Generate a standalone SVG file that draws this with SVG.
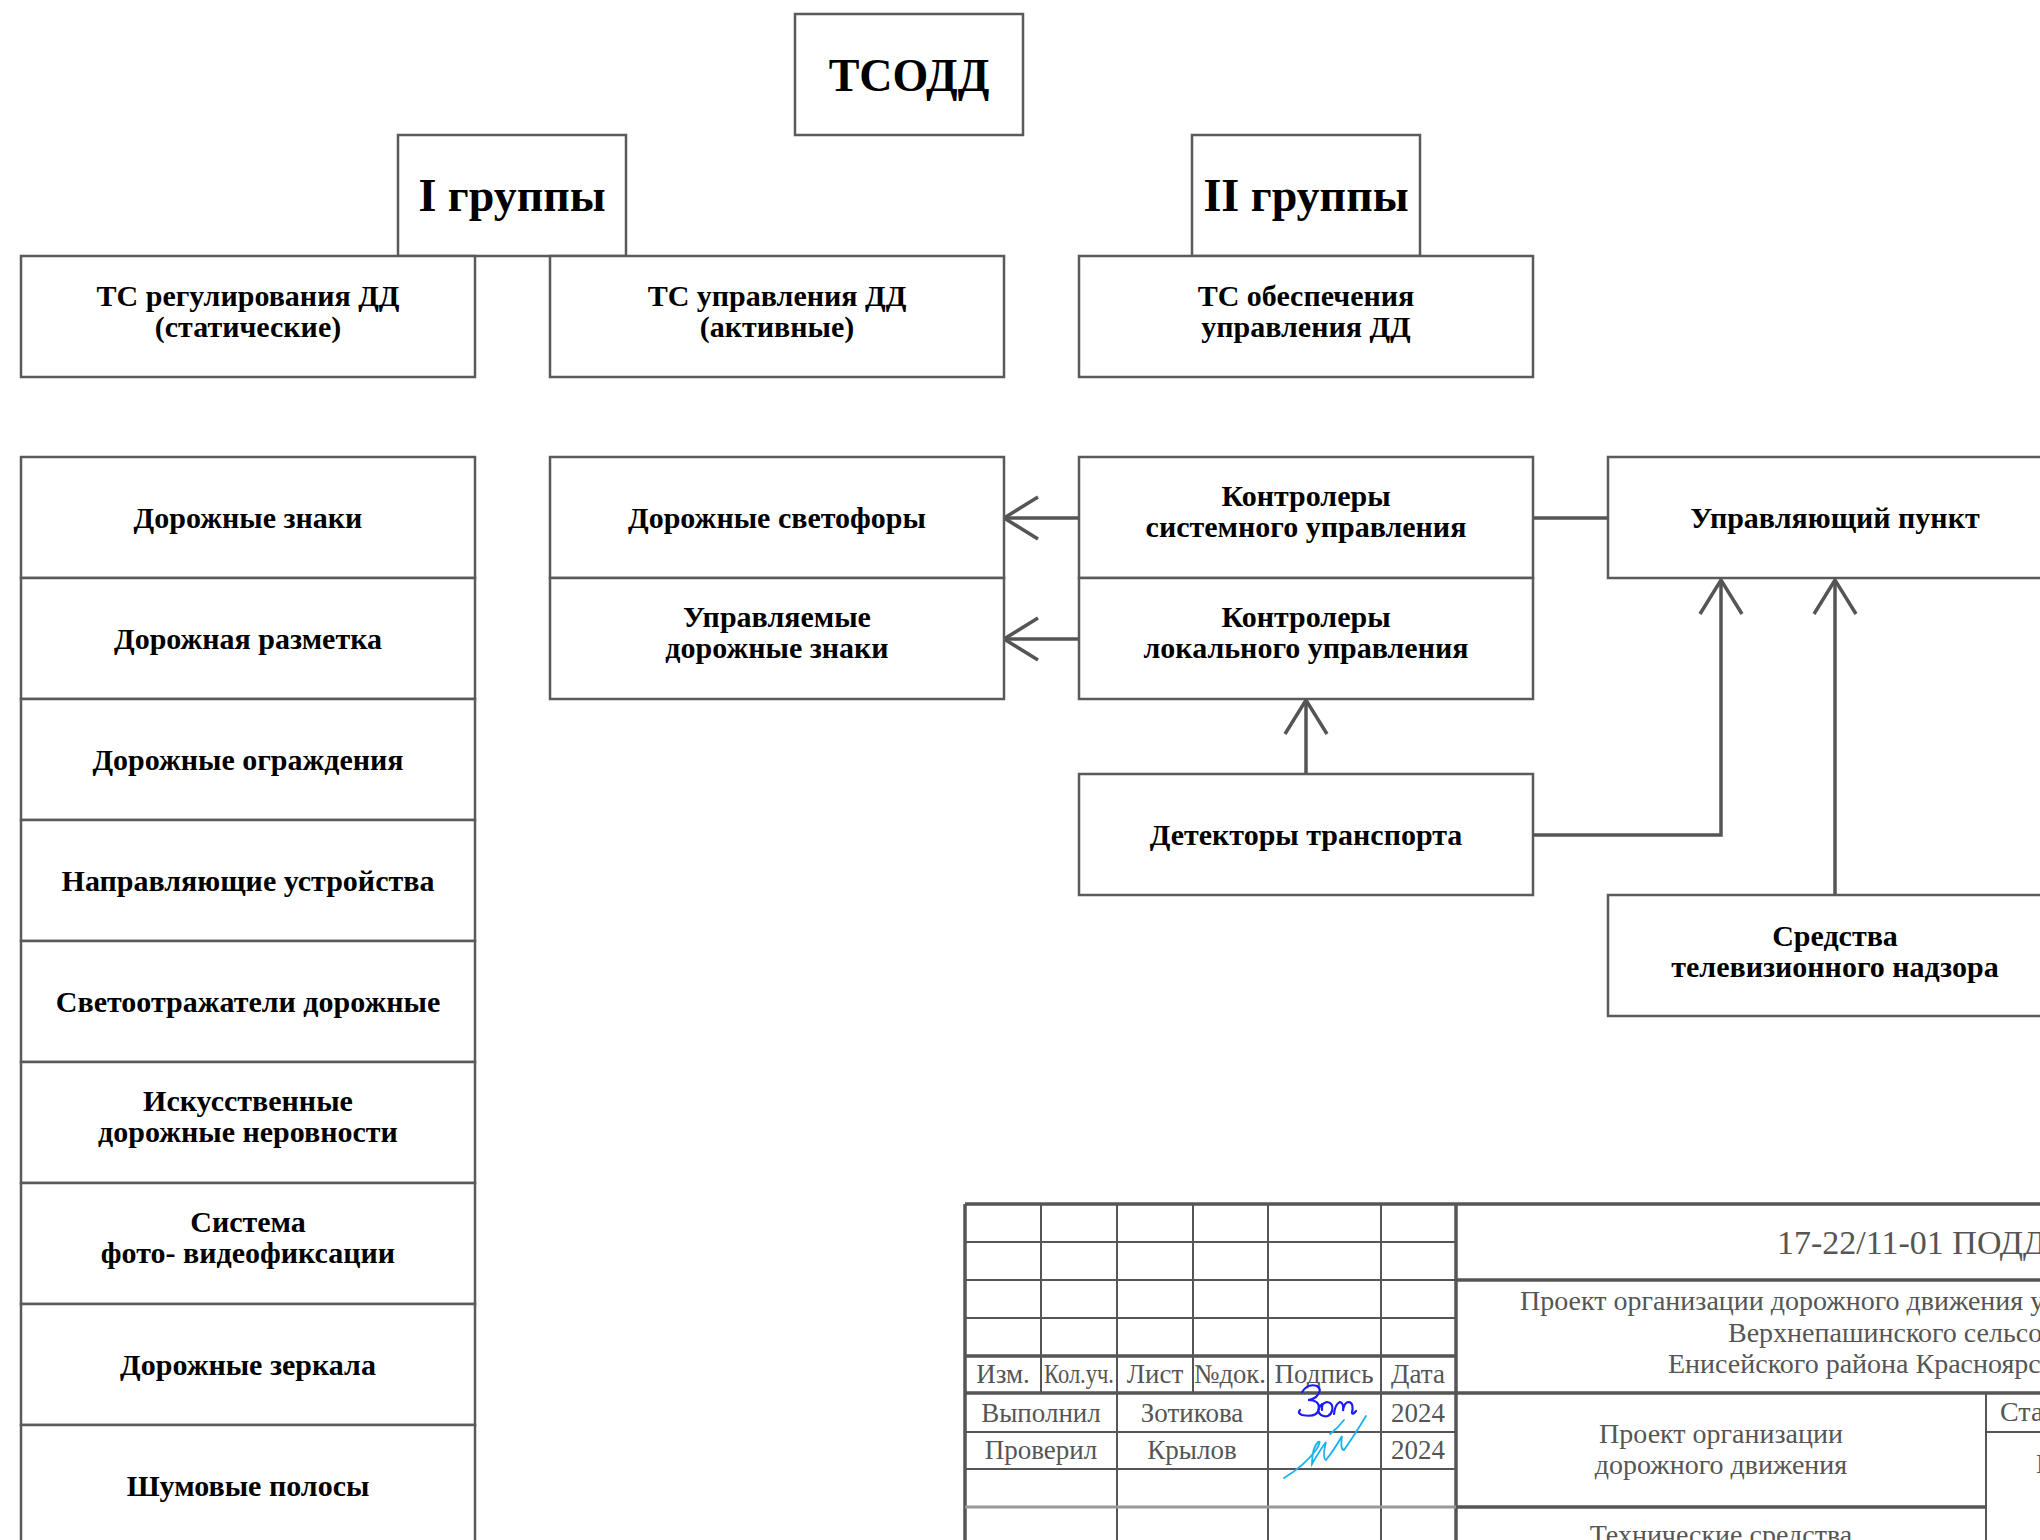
<svg xmlns="http://www.w3.org/2000/svg" width="2040" height="1540" viewBox="0 0 2040 1540">
<style>
.b{fill:#fff;stroke:#5a5a5a;stroke-width:2.5}
.t{font-family:"Liberation Serif","Times New Roman",serif;font-weight:bold;font-size:30px;fill:#000;text-anchor:middle}
.h{font-family:"Liberation Serif","Times New Roman",serif;font-weight:bold;font-size:46px;fill:#000;text-anchor:middle}
.c{fill:none;stroke:#555;stroke-width:3.5}
.tb{fill:none;stroke:#555;stroke-width:2}
.tbk{fill:none;stroke:#555;stroke-width:3.5}
.s{font-family:"Liberation Serif","Times New Roman",serif;font-size:27px;fill:#555;text-anchor:middle}
.sl{font-family:"Liberation Serif","Times New Roman",serif;font-size:28px;fill:#555}
</style>
<defs>
<marker id="arr" markerUnits="userSpaceOnUse" markerWidth="44" markerHeight="50" viewBox="-40 -25 44 50" refX="0" refY="0" orient="auto" overflow="visible">
<path d="M-34,-21 L0,0 L-34,21" fill="none" stroke="#555" stroke-width="3.5"/>
</marker>
</defs>
<rect width="2040" height="1540" fill="#fff"/>

<g id="connectors">
<path class="c" d="M1079,518 H1004" marker-end="url(#arr)"/>
<path class="c" d="M1079,639 H1004" marker-end="url(#arr)"/>
<path class="c" d="M1306,774 V700" marker-end="url(#arr)"/>
<path class="c" d="M1533,518 H1608"/>
<path class="c" d="M1533,835 H1721 V580" marker-end="url(#arr)"/>
<path class="c" d="M1835,895 V580" marker-end="url(#arr)"/>
</g>

<g id="tsodd"><rect class="b" x="795" y="14" width="228" height="121"/><text class="h" x="909" y="91">ТСОДД</text></g>
<g id="group1"><rect class="b" x="398" y="135" width="228" height="121"/><text class="h" x="512" y="211">I группы</text></g>
<g id="group2"><rect class="b" x="1192" y="135" width="228" height="121"/><text class="h" x="1306" y="211">II группы</text></g>

<g id="ts-reg"><rect class="b" x="21" y="256" width="454" height="121"/><text class="t" x="248" y="306">ТС регулирования ДД</text><text class="t" x="248" y="337">(статические)</text></g>
<g id="ts-upr"><rect class="b" x="550" y="256" width="454" height="121"/><text class="t" x="777" y="306">ТС управления ДД</text><text class="t" x="777" y="337">(активные)</text></g>
<g id="ts-obesp"><rect class="b" x="1079" y="256" width="454" height="121"/><text class="t" x="1306" y="306">ТС обеспечения</text><text class="t" x="1306" y="337">управления ДД</text></g>

<g id="znaki"><rect class="b" x="21" y="457" width="454" height="121"/><text class="t" x="248" y="528">Дорожные знаки</text></g>
<g id="razmetka"><rect class="b" x="21" y="578" width="454" height="121"/><text class="t" x="248" y="649">Дорожная разметка</text></g>
<g id="ograzhdeniya"><rect class="b" x="21" y="699" width="454" height="121"/><text class="t" x="248" y="770">Дорожные ограждения</text></g>
<g id="napravl"><rect class="b" x="21" y="820" width="454" height="121"/><text class="t" x="248" y="891">Направляющие устройства</text></g>
<g id="svetootr"><rect class="b" x="21" y="941" width="454" height="121"/><text class="t" x="248" y="1012">Светоотражатели дорожные</text></g>
<g id="nerovnosti"><rect class="b" x="21" y="1062" width="454" height="121"/><text class="t" x="248" y="1111">Искусственные</text><text class="t" x="248" y="1142">дорожные неровности</text></g>
<g id="foto"><rect class="b" x="21" y="1183" width="454" height="121"/><text class="t" x="248" y="1232">Система</text><text class="t" x="248" y="1263">фото- видеофиксации</text></g>
<g id="zerkala"><rect class="b" x="21" y="1304" width="454" height="121"/><text class="t" x="248" y="1375">Дорожные зеркала</text></g>
<g id="shum"><rect class="b" x="21" y="1425" width="454" height="125"/><text class="t" x="248" y="1496">Шумовые полосы</text></g>

<g id="svetofory"><rect class="b" x="550" y="457" width="454" height="121"/><text class="t" x="777" y="528">Дорожные светофоры</text></g>
<g id="upr-znaki"><rect class="b" x="550" y="578" width="454" height="121"/><text class="t" x="777" y="627">Управляемые</text><text class="t" x="777" y="658">дорожные знаки</text></g>

<g id="kontr-sys"><rect class="b" x="1079" y="457" width="454" height="121"/><text class="t" x="1306" y="506">Контролеры</text><text class="t" x="1306" y="537">системного управления</text></g>
<g id="kontr-loc"><rect class="b" x="1079" y="578" width="454" height="121"/><text class="t" x="1306" y="627">Контролеры</text><text class="t" x="1306" y="658">локального управления</text></g>
<g id="detektory"><rect class="b" x="1079" y="774" width="454" height="121"/><text class="t" x="1306" y="845">Детекторы транспорта</text></g>

<g id="upr-punkt"><rect class="b" x="1608" y="457" width="454" height="121"/><text class="t" x="1835" y="528">Управляющий пункт</text></g>
<g id="sredstva"><rect class="b" x="1608" y="895" width="454" height="121"/><text class="t" x="1835" y="946">Средства</text><text class="t" x="1835" y="977">телевизионного надзора</text></g>

<g id="title-block">
<path class="tb" d="M965,1242 H1456 M965,1280 H1456 M965,1318 H1456 M965,1432 H1456 M965,1469 H1456 M1986,1432 H2040"/>
<path class="tb" d="M1041,1204 V1393 M1193,1204 V1393 M1117,1204 V1545 M1268,1204 V1545 M1381,1204 V1545 M1986,1393 V1545"/>
<path class="tbk" d="M965,1204 H2040 M965,1204 V1545 M1456,1204 V1545 M965,1356 H1456 M965,1393 H2040 M1456,1280 H2040 M1456,1507 H1986"/>
<path d="M965,1507 H1456" stroke="#999" stroke-width="3" fill="none"/>

<text class="s" x="1003" y="1383">Изм.</text>
<text class="s" x="1079" y="1383" textLength="70" lengthAdjust="spacingAndGlyphs">Кол.уч.</text>
<text class="s" x="1155" y="1383">Лист</text>
<text class="s" x="1230" y="1383" textLength="72" lengthAdjust="spacingAndGlyphs">№док.</text>
<text class="s" x="1324" y="1383">Подпись</text>
<text class="s" x="1418" y="1383">Дата</text>
<text class="s" x="1041" y="1422">Выполнил</text>
<text class="s" x="1192" y="1422">Зотикова</text>
<text class="s" x="1418" y="1422">2024</text>
<text class="s" x="1041" y="1459">Проверил</text>
<text class="s" x="1192" y="1459">Крылов</text>
<text class="s" x="1418" y="1459">2024</text>

<text class="sl" x="1777" y="1254" style="font-size:34px">17-22/11-01 ПОДД</text>
<text class="sl" x="1520" y="1310">Проект организации дорожного движения у</text>
<text class="sl" x="1728" y="1342">Верхнепашинского сельсо</text>
<text class="sl" x="1668" y="1373">Енисейского района Красноярс</text>
<text class="s" x="1721" y="1443" style="font-size:28px">Проект организации</text>
<text class="s" x="1721" y="1474" style="font-size:28px">дорожного движения</text>
<text class="s" x="1721" y="1544" style="font-size:28px">Технические средства</text>
<text class="sl" x="2000" y="1421">Ста</text>
<text class="s" x="2046" y="1473" style="font-size:28px">П</text>

<path d="M1302,1392 q6,-9 15,-6 q6,4 -1,11 q-4,3 -8,3 q12,0 11,9 q-2,9 -17,6 q-5,-2 -2,-5 M1322,1404 q-7,6 -1,11 q8,4 11,-4 q2,-8 -5,-9 q-6,1 -5,8 M1334,1414 q1,-10 6,-12 q4,1 3,9 q1,-9 6,-9 q5,1 3,11 q1,2 4,-2" fill="none" stroke="#1a1aff" stroke-width="2.2" stroke-linecap="round"/>
<path d="M1284,1478 q20,-12 32,-28 q6,-10 2,-8 q-6,6 -6,22 q8,-14 14,-22 q-4,16 0,18 q8,-10 16,-24 q-2,14 2,14 q10,-14 22,-34 M1330,1434 q8,-6 14,-14" fill="none" stroke="#1ab2f0" stroke-width="1.8" stroke-linecap="round"/>
</g>
</svg>
